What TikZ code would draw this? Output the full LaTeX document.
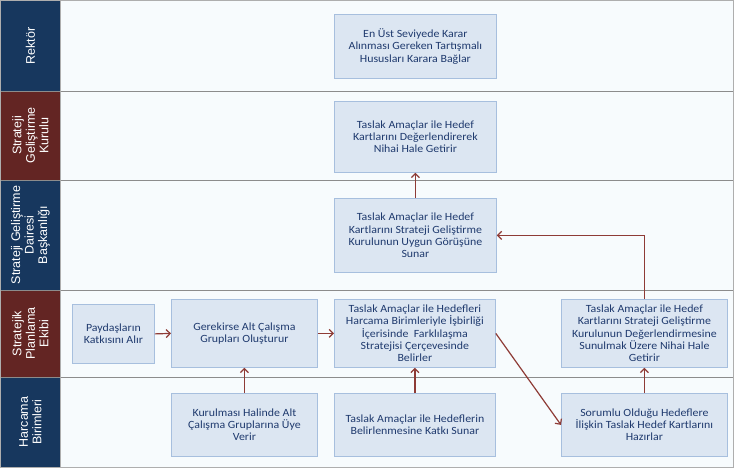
\documentclass[tikz,border=0pt]{standalone}
\usepackage{fontspec}
\setmainfont{Carlito}[FakeStretch=1.08]
\newfontfamily\lanefont{Liberation Sans}
\usetikzlibrary{arrows.meta}
\definecolor{navy}{HTML}{17375E}
\definecolor{wine}{HTML}{632523}
\definecolor{boxfill}{HTML}{DCE6F2}
\definecolor{boxline}{HTML}{A7BFDE}
\definecolor{txt}{HTML}{1F3A6E}
\definecolor{arr}{HTML}{8E3B36}
\definecolor{lanebg}{HTML}{F7FBFD}
\definecolor{sep}{HTML}{8C8C8C}
\begin{document}
\begin{tikzpicture}[x=1pt,y=-1pt,
  box/.style={draw=boxline, fill=boxfill, line width=0.8pt, text=txt,
    font=\fontsize{11}{12.3}\selectfont, align=center, inner sep=1pt, anchor=north west},
  flow/.style={draw=arr, line width=1.2pt, -{Straight Barb[length=4pt,width=8pt]}},
  lanelab/.style={text=white, font=\lanefont\fontsize{12.5}{13.5}\selectfont, align=center, rotate=90}]
\useasboundingbox (0,0) rectangle (734,468);
% lanes
\fill[lanebg] (60,1) rectangle (734,467);
\fill[navy] (1,1) rectangle (60,91);
\fill[wine] (1,91) rectangle (60,180);
\fill[navy] (1,180) rectangle (60,290);
\fill[wine] (1,290) rectangle (60,377);
\fill[navy] (1,377) rectangle (60,467);
\foreach \yy in {91,180,290,377} \draw[sep, line width=0.8pt] (0,\yy) -- (734,\yy);
\draw[sep!70, line width=1pt] (0.5,0.5) rectangle (733.5,467.5);
\draw[sep!70, line width=0.8pt] (60,1) -- (60,467);
\node[lanelab] (l1) at (30.5,46) {Rektör};
\node[lanelab] (l2) at (30.5,135.5) {Strateji\\Geliştirme\\Kurulu};
\node[lanelab] (l3) at (30.5,235) {Strateji Geliştirme\\Dairesi\\Başkanlığı};
\node[lanelab] (l4) at (30.5,333.5) {Stratejik\\Planlama\\Ekibi};
\node[lanelab] (l5) at (30.5,422) {Harcama\\Birimleri};
% boxes
\node[box, minimum width=162, minimum height=64] (rek) at (334,14) {En Üst Seviyede Karar\\Alınması Gereken Tartışmalı\\Hususları Karara Bağlar};
\node[box, minimum width=162, minimum height=71] (kur) at (334,101) {Taslak Amaçlar ile Hedef\\Kartlarını Değerlendirerek\\Nihai Hale Getirir};
\node[box, minimum width=162, minimum height=74] (dai) at (334,198) {Taslak Amaçlar ile Hedef\\Kartlarını Strateji Geliştirme\\Kurulunun Uygun Görüşüne\\Sunar};
\node[box, minimum width=82, minimum height=59] (pay) at (72,304) {Paydaşların\\Katkısını Alır};
\node[box, minimum width=146, minimum height=68] (ger) at (171,299) {Gerekirse Alt Çalışma\\Grupları Oluşturur};
\node[box, minimum width=161, minimum height=68] (tah) at (334,299) {Taslak Amaçlar ile Hedefleri\\Harcama Birimleriyle İşbirliği\\İçerisinde\ \ Farklılaşma\\Stratejisi Çerçevesinde\\Belirler};
\node[box, minimum width=166, minimum height=68] (spr) at (561,299) {Taslak Amaçlar ile Hedef\\Kartlarını Strateji Geliştirme\\Kurulunun Değerlendirmesine\\Sunulmak Üzere Nihai Hale\\Getirir};
\node[box, minimum width=146, minimum height=63] (kat) at (171,393) {Kurulması Halinde Alt\\Çalışma Gruplarına Üye\\Verir};
\node[box, minimum width=161, minimum height=63] (thn) at (334,393) {Taslak Amaçlar ile Hedeflerin\\Belirlenmesine Katkı Sunar};
\node[box, minimum width=166, minimum height=63] (sor) at (561,393) {Sorumlu Olduğu Hedeflere\\İlişkin Taslak Hedef Kartlarını\\Hazırlar};
% connectors
\draw[flow] (pay.east) -- (ger.west);
\draw[flow] (ger.east) -- (tah.west);
\draw[flow] (kat.north) -- (ger.south);
\draw[flow] (thn.north) -- (tah.south);
\draw[flow] (tah.east) -- (sor.west);
\draw[flow] (sor.north) -- (spr.south);
\draw[flow] (spr.north) |- (dai.east);
\draw[flow] (dai.north) -- (kur.south);
\end{tikzpicture}
\end{document}
